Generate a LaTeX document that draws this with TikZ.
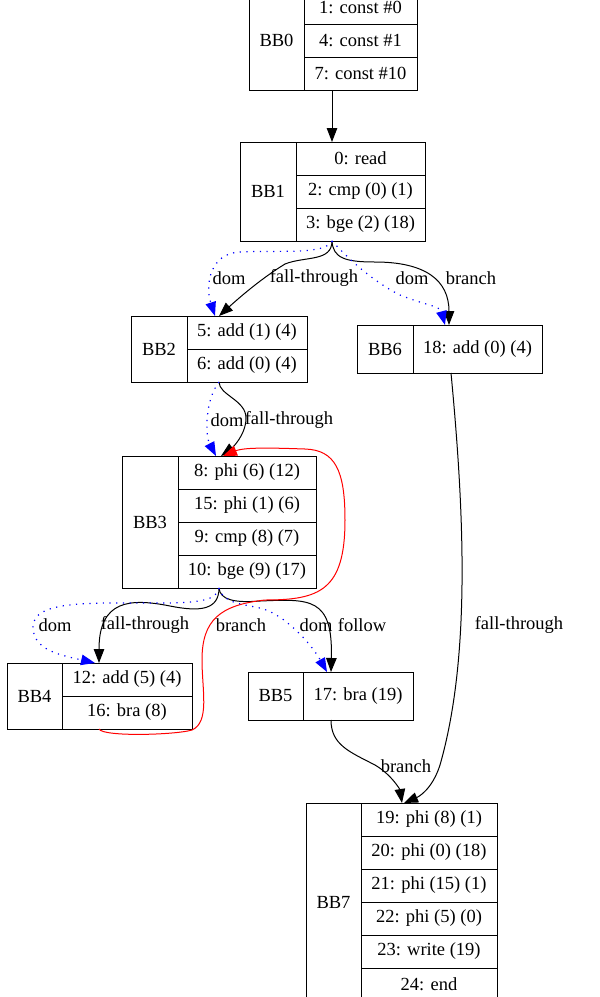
\documentclass[tikz,border=0pt]{standalone}
\usepackage{fontspec}
\setmainfont{Liberation Serif}
\usetikzlibrary{arrows.meta}

\tikzset{
  bbname/.style={draw, line width=1pt, inner sep=0pt, outer sep=0pt, anchor=north west},
  instr/.style={draw, line width=1pt, inner sep=0pt, outer sep=0pt, anchor=north west, minimum height=33pt},
  flow/.style={line width=1pt, -{Triangle[length=14pt,width=10.5pt]}},
  domedge/.style={blue, line width=1.2pt, dash pattern=on 1.2pt off 5.5pt, -{Triangle[length=14pt,width=10.5pt]}},
  backedge/.style={red, line width=1pt, -{Triangle[length=14pt,width=10.5pt]}},
  elabel/.style={inner sep=0pt},
}

\begin{document}
\begin{tikzpicture}[x=1pt, y=-1pt, font=\fontsize{18.5}{21}\selectfont]
    \useasboundingbox (0,0) rectangle (600,997);

    % Basic blocks
    \node[bbname, minimum width=55pt, minimum height=99pt] (bb0) at (249,-9) {BB0};
    \foreach \txt [count=\i from 0] in {1: const \#0, 4: const \#1, 7: const \#10}
        \node[instr, minimum width=113pt] (bb0r\i) at (304,-9+33*\i) {\txt};

    \node[bbname, minimum width=56pt, minimum height=99pt] (bb1) at (240,142) {BB1};
    \foreach \txt [count=\i from 0] in {0: read, 2: cmp (0) (1), 3: bge (2) (18)}
        \node[instr, minimum width=129pt] (bb1r\i) at (296,142+33*\i) {\txt};

    \node[bbname, minimum width=56pt, minimum height=66pt] (bb2) at (131,316) {BB2};
    \foreach \txt [count=\i from 0] in {5: add (1) (4), 6: add (0) (4)}
        \node[instr, minimum width=120pt] (bb2r\i) at (187,316+33*\i) {\txt};

    \node[bbname, minimum width=56pt, minimum height=48pt] (bb6) at (357,325) {BB6};
    \node[instr, minimum width=129pt, minimum height=48pt] (bb6r0) at (413,325) {18: add (0) (4)};

    \node[bbname, minimum width=56pt, minimum height=132pt] (bb3) at (122,456) {BB3};
    \foreach \txt [count=\i from 0] in {8: phi (6) (12), 15: phi (1) (6), 9: cmp (8) (7), 10: bge (9) (17)}
        \node[instr, minimum width=138pt] (bb3r\i) at (178,456+33*\i) {\txt};

    \node[bbname, minimum width=55pt, minimum height=66pt] (bb4) at (7,663) {BB4};
    \foreach \txt [count=\i from 0] in {12: add (5) (4), 16: bra (8)}
        \node[instr, minimum width=130pt] (bb4r\i) at (62,663+33*\i) {\txt};

    \node[bbname, minimum width=55pt, minimum height=48pt] (bb5) at (248,672) {BB5};
    \node[instr, minimum width=110pt, minimum height=48pt] (bb5r0) at (303,672) {17: bra (19)};

    \node[bbname, minimum width=55pt, minimum height=198pt] (bb7) at (306,803) {BB7};
    \foreach \txt [count=\i from 0] in {19: phi (8) (1), 20: phi (0) (18), 21: phi (15) (1), 22: phi (5) (0), 23: write (19), 24: end}
        \node[instr, minimum width=136pt] (bb7r\i) at (361,803+33*\i) {\txt};

    % Control flow
    \draw[flow] ([xshift=28]bb0r2.south west) -- ([xshift=36]bb1r0.north west);
    \draw[flow] ([xshift=36]bb1r2.south west) .. controls (332,262) and (305,256) .. (285,264)
        .. controls (262,278) and (240,297) .. ([xshift=32]bb2r0.north west);
    \draw[flow] ([xshift=36]bb1r2.south west) .. controls (333,258) and (345,262) .. (375,262)
        .. controls (425,262) and (449,280) .. ([xshift=36]bb6r0.north west);
    \draw[flow] ([xshift=32]bb2r1.south west) .. controls (219,395) and (246,400) .. (246,418)
        .. controls (246,435) and (232,448) .. ([xshift=43]bb3r0.north west);
    \draw[flow] ([xshift=41]bb3r3.south west) .. controls (219,610) and (200,612) .. (170,606)
        .. controls (130,598) and (99,600) .. ([xshift=37]bb4r0.north west);
    \draw[flow] ([xshift=41]bb3r3.south west) .. controls (220,600) and (235,603) .. (260,601)
        .. controls (310,599) and (333,597) .. ([xshift=28]bb5r0.north west);
    \draw[flow] ([xshift=28]bb5r0.south west) .. controls (331,745) and (350,752) .. (375,765)
        .. controls (392,775) and (400,790) .. ([xshift=41]bb7r0.north west);
    \draw[flow] ([xshift=38]bb6r0.south west) .. controls (465,520) and (470,660) .. (440,765)
        .. controls (432,790) and (418,797) .. ([xshift=43]bb7r0.north west);

    % Back edge
    \draw[backedge] ([xshift=37]bb4r1.south west) .. controls (103,737) and (175,735) .. (192,730)
        .. controls (210,722) and (202,690) .. (202,660)
        .. controls (202,620) and (220,605) .. (265,600)
        .. controls (320,600) and (345,590) .. (345,520)
        .. controls (345,470) and (335,450) .. (305,449)
        .. controls (275,448) and (245,447) .. ([xshift=45]bb3r0.north west);

    % Dominator edges
    \draw[domedge] ([xshift=36]bb1r2.south west) .. controls (325,255) and (280,250) .. (240,252)
        .. controls (210,253) and (205,285) .. ([xshift=28]bb2r0.north west);
    \draw[domedge] ([xshift=36]bb1r2.south west) .. controls (345,255) and (370,280) .. (400,295)
        .. controls (425,305) and (440,306) .. ([xshift=32]bb6r0.north west);
    \draw[domedge] ([xshift=32]bb2r1.south west) .. controls (205,400) and (205,435) .. ([xshift=38]bb3r0.north west);
    \draw[domedge] ([xshift=41]bb3r3.south west) .. controls (217,600) and (200,603) .. (160,603)
        .. controls (90,603) and (33,600) .. (33,627)
        .. controls (33,650) and (60,655) .. ([xshift=33]bb4r0.north west);
    \draw[domedge] ([xshift=41]bb3r3.south west) .. controls (222,602) and (240,604) .. (260,608)
        .. controls (285,614) and (312,645) .. ([xshift=24]bb5r0.north west);

    % Edge labels
    \node[elabel] (l1dom) at (229,278) {dom};
    \node[elabel] (l1fall) at (314,278) {fall-through};
    \node[elabel] (l6dom) at (412,278) {dom};
    \node[elabel] (l6branch) at (471,278) {branch};
    \node[elabel] (l2dom) at (227,420) {dom};
    \node[elabel] (l2fall) at (289,420) {fall-through};
    \node[elabel] (l4dom) at (55,625) {dom};
    \node[elabel] (l4fall) at (145,625) {fall-through};
    \node[elabel] (l4branch) at (241,625) {branch};
    \node[elabel] (l5dom) at (316,625) {dom};
    \node[elabel] (l5follow) at (362,625) {follow};
    \node[elabel] (l7fall) at (519,625) {fall-through};
    \node[elabel] (l7branch) at (406,766) {branch};
\end{tikzpicture}
\end{document}
